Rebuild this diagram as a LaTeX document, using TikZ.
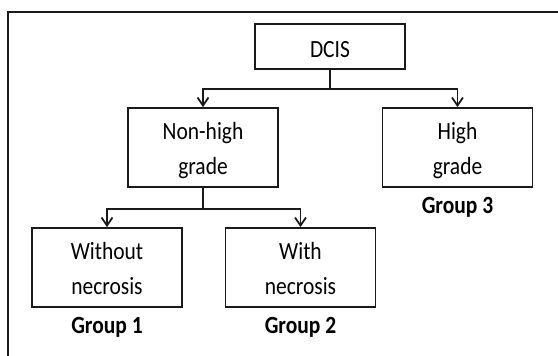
\documentclass[tikz,border=0pt]{standalone}
\usepackage{fontspec}
\setmainfont{Carlito}
\usepackage{graphicx}
\usepackage{tikz}
\usetikzlibrary{arrows.meta,calc,positioning}
\definecolor{darkgray}{HTML}{1A1A1A}
% text of the scan is a little taller than wide
\newcommand{\boxtext}[2][2.7pt]{\raisebox{-#1}[\height][\depth]{\scalebox{1}[1.15]{\begin{tabular}{@{}c@{}}#2\end{tabular}}}}
\newcommand{\grouptext}[1]{\scalebox{1}[1.15]{#1}}
\tikzset{
  frameline/.style={darkgray, line width=1.8pt},
  connector/.style={darkgray, line width=1.8pt},
  arrowline/.style={darkgray, line width=1.8pt, -{Straight Barb[length=8pt,width=11pt,line width=1.8pt]}},
  boxnode/.style={draw=darkgray, line width=1.8pt, inner sep=0pt, minimum width=150pt, minimum height=79pt,
    font=\fontsize{21.5}{29.6}\selectfont},
  groupnode/.style={inner sep=0pt, anchor=base, font=\fontsize{21.5}{26}\selectfont\bfseries}
}
\begin{document}
\begin{tikzpicture}[x=1pt,y=-1pt]
  \useasboundingbox (0,0) rectangle (558,356);
  \draw[frameline] (8,358) -- (8,12) -- (560,12);
  % boxes
  \node[boxnode, minimum height=45pt] (dcis) at (330,46.5) {\boxtext[4.4pt]{DCIS}};
  \node[boxnode] (nonhigh) at (203,147.5) {\boxtext{Non-high\\grade}};
  \node[boxnode] (high) at (457.5,147.5) {\boxtext{High\\grade}};
  \node[boxnode] (without) at (107,267.5) {\boxtext{Without\\necrosis}};
  \node[boxnode] (with) at (300.5,267.5) {\boxtext{With\\necrosis}};
  % group labels
  \node[groupnode] (group3) at (457.5,213) {\grouptext{Group 3}};
  \node[groupnode] (group1) at (107,333) {\grouptext{Group 1}};
  \node[groupnode] (group2) at (300.5,333) {\grouptext{Group 2}};
  % connectors
  \coordinate (dcissplit) at ($(dcis.south)+(0,19)$);
  \coordinate (nonhighsplit) at ($(nonhigh.south)+(0,21)$);
  \draw[connector] (dcis.south) -- (dcissplit);
  \draw[arrowline] (dcissplit) -| (nonhigh.north);
  \draw[arrowline] (dcissplit) -| (high.north);
  \draw[connector] (nonhigh.south) -- (nonhighsplit);
  \draw[arrowline] (nonhighsplit) -| (without.north);
  \draw[arrowline] (nonhighsplit) -| (with.north);
\end{tikzpicture}
\end{document}
